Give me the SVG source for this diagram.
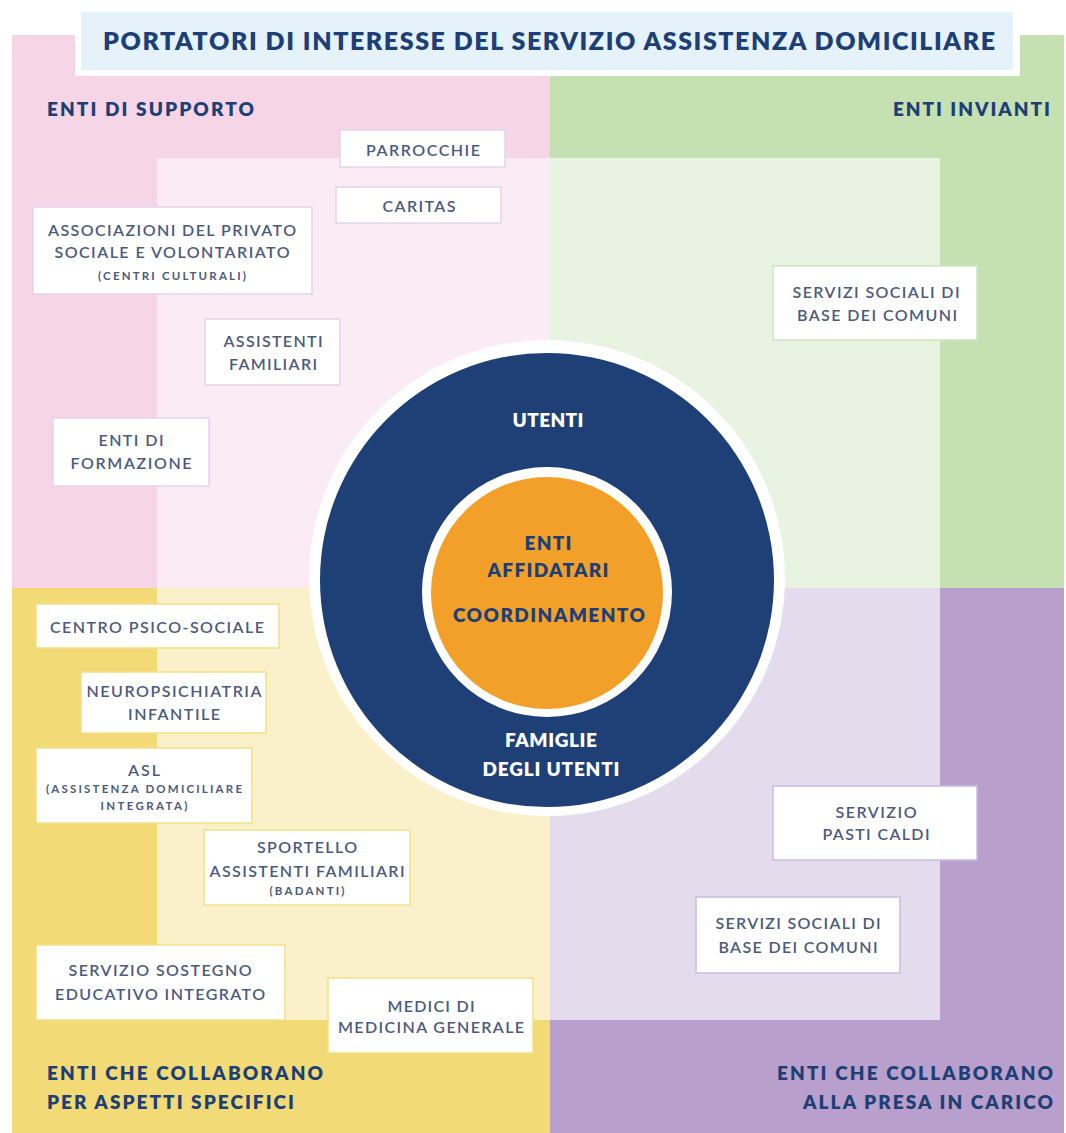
<svg xmlns="http://www.w3.org/2000/svg" width="1066" height="1133" viewBox="0 0 1066 1133">
  <style>
    text { font-family: Lato, "Liberation Sans", "DejaVu Sans", sans-serif; text-anchor: middle; }
    .title { font-size: 25px; font-weight: 800; fill: #1e3f75; }
    .sec { font-size: 19px; font-weight: 800; fill: #1e3f75; }
    .secL { text-anchor: start; }
    .secR { text-anchor: end; }
    .lbl { font-size: 16px; font-weight: 600; fill: #4c5a7e; }
    .sm { font-size: 11.5px; font-weight: 700; fill: #4c5a7e; }
    .cw { font-size: 19px; font-weight: 800; fill: #ffffff; }
    .cn { font-size: 19px; font-weight: 800; fill: #1e3f75; }
    .box { fill: #ffffff; stroke-width: 1.5; }
    .bp { stroke: #e3d4ea; }
    .bg { stroke: #cfe4c2; }
    .by { stroke: #f2df86; }
    .bv { stroke: #c6bde2; }
  </style>

  <rect width="1066" height="1133" fill="#ffffff"/>

  <g id="background">
    <rect x="12" y="35" width="538" height="553" fill="#f5d5e6"/>
    <rect x="550" y="35" width="514" height="553" fill="#c6e1b1"/>
    <rect x="12" y="588" width="538" height="545" fill="#f2db77"/>
    <rect x="550" y="588" width="514" height="545" fill="#b9a0cc"/>
    <rect x="157" y="158" width="393" height="430" fill="#fbebf4"/>
    <rect x="550" y="158" width="390" height="430" fill="#e8f3e1"/>
    <rect x="157" y="588" width="393" height="432" fill="#faf0c9"/>
    <rect x="550" y="588" width="390" height="432" fill="#e4dbec"/>
  </g>

  <g id="title">
    <rect x="75" y="8" width="945" height="68" fill="#ffffff"/>
    <rect x="81" y="12" width="932" height="58" fill="#e5f2fa"/>
    <text class="title" x="549" y="50" textLength="892" lengthAdjust="spacing">PORTATORI DI INTERESSE DEL SERVIZIO ASSISTENZA DOMICILIARE</text>
  </g>

  <g id="section-labels">
    <text class="sec secL" x="47" y="116" textLength="207" lengthAdjust="spacing">ENTI DI SUPPORTO</text>
    <text class="sec secR" x="1050" y="116" textLength="157" lengthAdjust="spacing">ENTI INVIANTI</text>
    <text class="sec secL" x="47" y="1080" textLength="276" lengthAdjust="spacing">ENTI CHE COLLABORANO</text>
    <text class="sec secL" x="47" y="1109" textLength="247" lengthAdjust="spacing">PER ASPETTI SPECIFICI</text>
    <text class="sec secR" x="1053" y="1080" textLength="276" lengthAdjust="spacing">ENTI CHE COLLABORANO</text>
    <text class="sec secR" x="1053" y="1109" textLength="250" lengthAdjust="spacing">ALLA PRESA IN CARICO</text>
  </g>

  <g id="center">
    <circle cx="547" cy="578" r="238" fill="#ffffff"/>
    <circle cx="547" cy="580" r="227" fill="#1e4076"/>
    <circle cx="547" cy="592" r="125" fill="#ffffff"/>
    <circle cx="547" cy="593" r="116" fill="#f3a02a"/>
    <text class="cw" x="548" y="427" textLength="71" lengthAdjust="spacing">UTENTI</text>
    <text class="cn" x="548" y="550" textLength="47" lengthAdjust="spacing">ENTI</text>
    <text class="cn" x="548" y="577" textLength="121" lengthAdjust="spacing">AFFIDATARI</text>
    <text class="cn" x="549" y="622" textLength="192" lengthAdjust="spacing">COORDINAMENTO</text>
    <text class="cw" x="551" y="747" textLength="92" lengthAdjust="spacing">FAMIGLIE</text>
    <text class="cw" x="551" y="776" textLength="137" lengthAdjust="spacing">DEGLI UTENTI</text>
  </g>

  <g id="parrocchie">
    <rect class="box bp" x="340" y="130" width="165" height="37"/>
    <text class="lbl" x="423" y="156" textLength="114" lengthAdjust="spacing">PARROCCHIE</text>
  </g>
  <g id="caritas">
    <rect class="box bp" x="336" y="187" width="165" height="36"/>
    <text class="lbl" x="419" y="212" textLength="73" lengthAdjust="spacing">CARITAS</text>
  </g>
  <g id="associazioni">
    <rect class="box bp" x="33" y="207" width="279" height="87"/>
    <text class="lbl" x="172" y="236" textLength="248" lengthAdjust="spacing">ASSOCIAZIONI DEL PRIVATO</text>
    <text class="lbl" x="172" y="258" textLength="235" lengthAdjust="spacing">SOCIALE E VOLONTARIATO</text>
    <text class="sm" x="172" y="280" textLength="148" lengthAdjust="spacing">(CENTRI CULTURALI)</text>
  </g>
  <g id="assistenti-familiari">
    <rect class="box bp" x="205" y="319" width="135" height="66"/>
    <text class="lbl" x="273" y="347" textLength="99" lengthAdjust="spacing">ASSISTENTI</text>
    <text class="lbl" x="273" y="370" textLength="88" lengthAdjust="spacing">FAMILIARI</text>
  </g>
  <g id="enti-formazione">
    <rect class="box bp" x="53" y="418" width="156" height="68"/>
    <text class="lbl" x="131" y="446" textLength="65" lengthAdjust="spacing">ENTI DI</text>
    <text class="lbl" x="131" y="469" textLength="121" lengthAdjust="spacing">FORMAZIONE</text>
  </g>

  <g id="servizi-sociali-invianti">
    <rect class="box bg" x="773" y="266" width="204" height="74"/>
    <text class="lbl" x="876" y="298" textLength="167" lengthAdjust="spacing">SERVIZI SOCIALI DI</text>
    <text class="lbl" x="877" y="321" textLength="160" lengthAdjust="spacing">BASE DEI COMUNI</text>
  </g>

  <g id="centro-psico-sociale">
    <rect class="box by" x="36" y="604" width="243" height="44"/>
    <text class="lbl" x="157" y="633" textLength="214" lengthAdjust="spacing">CENTRO PSICO-SOCIALE</text>
  </g>
  <g id="neuropsichiatria">
    <rect class="box by" x="81" y="672" width="185" height="61"/>
    <text class="lbl" x="174" y="697" textLength="175" lengthAdjust="spacing">NEUROPSICHIATRIA</text>
    <text class="lbl" x="174" y="720" textLength="92" lengthAdjust="spacing">INFANTILE</text>
  </g>
  <g id="asl">
    <rect class="box by" x="36" y="748" width="216" height="75"/>
    <text class="lbl" x="144" y="776" textLength="32" lengthAdjust="spacing">ASL</text>
    <text class="sm" x="144" y="793" textLength="196" lengthAdjust="spacing">(ASSISTENZA DOMICILIARE</text>
    <text class="sm" x="144" y="810" textLength="87" lengthAdjust="spacing">INTEGRATA)</text>
  </g>
  <g id="sportello">
    <rect class="box by" x="204" y="830" width="206" height="75"/>
    <text class="lbl" x="307" y="853" textLength="100" lengthAdjust="spacing">SPORTELLO</text>
    <text class="lbl" x="307" y="877" textLength="195" lengthAdjust="spacing">ASSISTENTI FAMILIARI</text>
    <text class="sm" x="307" y="895" textLength="75" lengthAdjust="spacing">(BADANTI)</text>
  </g>
  <g id="sostegno-educativo">
    <rect class="box by" x="36" y="945" width="249" height="75"/>
    <text class="lbl" x="160" y="976" textLength="183" lengthAdjust="spacing">SERVIZIO SOSTEGNO</text>
    <text class="lbl" x="160" y="1000" textLength="210" lengthAdjust="spacing">EDUCATIVO INTEGRATO</text>
  </g>
  <g id="medici">
    <rect class="box by" x="328" y="978" width="205" height="75"/>
    <text class="lbl" x="431" y="1012" textLength="87" lengthAdjust="spacing">MEDICI DI</text>
    <text class="lbl" x="431" y="1033" textLength="186" lengthAdjust="spacing">MEDICINA GENERALE</text>
  </g>

  <g id="pasti-caldi">
    <rect class="box bv" x="773" y="786" width="204" height="74"/>
    <text class="lbl" x="876" y="818" textLength="81" lengthAdjust="spacing">SERVIZIO</text>
    <text class="lbl" x="876" y="840" textLength="107" lengthAdjust="spacing">PASTI CALDI</text>
  </g>
  <g id="servizi-sociali-presa">
    <rect class="box bv" x="696" y="897" width="204" height="76"/>
    <text class="lbl" x="798" y="929" textLength="165" lengthAdjust="spacing">SERVIZI SOCIALI DI</text>
    <text class="lbl" x="798" y="953" textLength="159" lengthAdjust="spacing">BASE DEI COMUNI</text>
  </g>

  <g id="connectors"></g>
</svg>
